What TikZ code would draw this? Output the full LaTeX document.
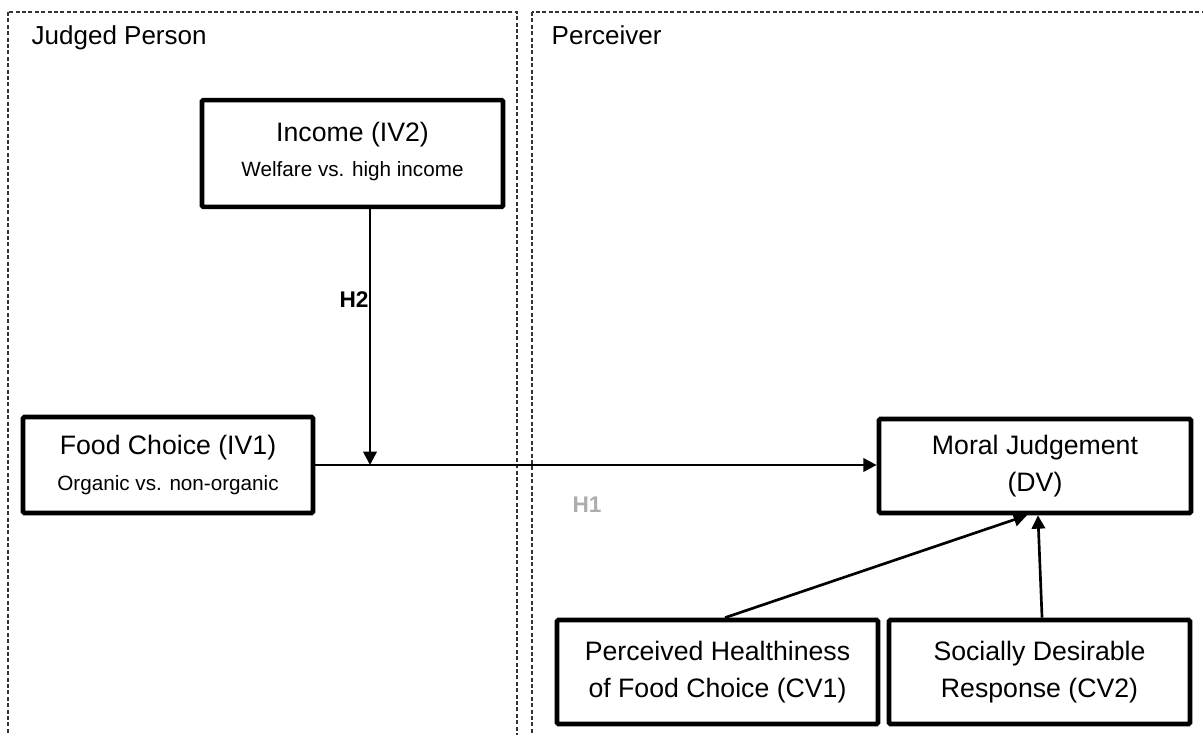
\documentclass[tikz,border=0pt]{standalone}
\usepackage{fontspec}
\setmainfont{Liberation Sans}
\usetikzlibrary{arrows.meta}

\newcommand{\boxtitle}{\fontsize{20}{28}\selectfont}
\newcommand{\boxsub}{\fontsize{15.5}{20}\selectfont}

\tikzset{
  varbox/.style={draw, line width=3.5pt, rounded corners=1pt, align=center, inner sep=0pt, font=\boxtitle},
  link/.style={-{Triangle[length=10pt,width=10pt]}, line width=2pt},
  panel/.style={dash pattern=on 3pt off 1.8pt, line width=0.8pt, black!80},
  hyp/.style={font=\fontsize{17}{20}\selectfont\bfseries},
}

\begin{document}
\begin{tikzpicture}[x=0.75pt, y=-0.75pt]
            \useasboundingbox (0,0) rectangle (1203,735);
            \clip (0,0) rectangle (1203,735);
            % the two sides
            \draw[panel] (8,12) rectangle (517,760);
            \draw[panel] (532,12) rectangle (1260,760);
            \node[anchor=base west, font=\fontsize{19.5}{22}\selectfont] (judged) at (27,45) {Judged Person};
            \node[anchor=base west, font=\fontsize{19.5}{22}\selectfont] (perceiver) at (547,45) {Perceiver};
            % variables
            \node[varbox, minimum width=225.75pt, minimum height=80pt] (income) at (352.5,153.5)
                {Income (IV2)\\[-1.5pt]{\boxsub Welfare vs. high income}\\[-22pt]\mbox{}};
            \node[varbox, minimum width=217.5pt, minimum height=72pt] (food) at (168,465)
                {Food Choice (IV1)\\[-1pt]{\boxsub Organic vs. non-organic}};
            \node[varbox, minimum width=234pt, minimum height=70.5pt] (moral) at (1035,466)
                {Moral Judgement\\(DV)};
            \node[varbox, minimum width=240.75pt, minimum height=78pt] (cvone) at (717.5,672)
                {Perceived Healthiness\\of Food Choice (CV1)};
            \node[varbox, minimum width=225.75pt, minimum height=78pt] (cvtwo) at (1039.5,672)
                {Socially Desirable\\Response (CV2)};
            % hypotheses
            \coordinate (meet) at (370,465);
            \draw[link] (food.east) -- (food.east -| moral.west);
            \draw[link] (income.south -| meet) -- (meet);
            \draw[link] ([xshift=5.6pt]cvone.north) -- ([xshift=-6pt]moral.south);
            \draw[link] ([xshift=1.9pt]cvtwo.north) -- ([xshift=2.2pt]moral.south);
            \node[hyp] (htwo) at (354,300) {H2};
            \node[hyp, text=black!32] (hone) at (587,505) {H1};
        \end{tikzpicture}
\end{document}
